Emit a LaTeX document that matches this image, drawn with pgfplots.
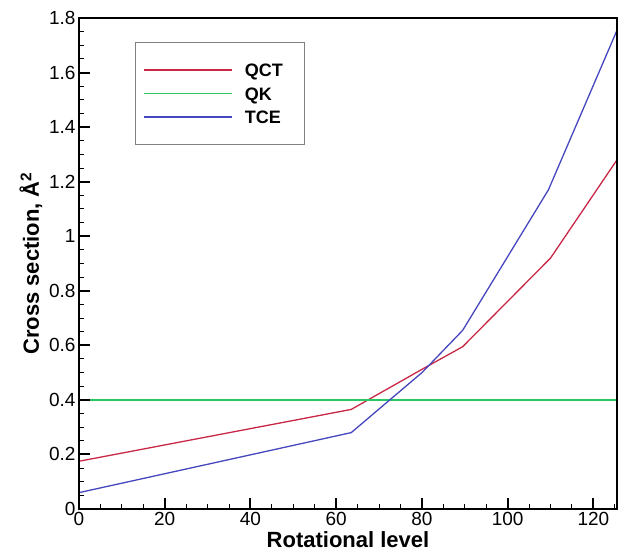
\documentclass[border=0pt]{standalone}
\usepackage{pgfplots}
\pgfplotsset{compat=1.18}
\usepackage{fontspec}
\setmainfont{Liberation Sans}
\definecolor{qct}{RGB}{200,40,70}
\definecolor{qk}{RGB}{40,200,100}
\definecolor{tce}{RGB}{70,70,190}
\begin{document}
\begin{tikzpicture}
\useasboundingbox (-79pt,-42pt) rectangle (544pt,509pt);
\begin{axis}[
  at={(0pt,0pt)}, anchor=south west,
  scale only axis,
  width=538pt, height=491pt,
  xmin=0, xmax=125.5, ymin=0, ymax=1.8,
  xtick={0,20,...,120}, ytick={0,0.2,...,1.8},
  yticklabels={0,0.2,0.4,0.6,0.8,1,1.2,1.4,1.6,1.8},
  xtick pos=left, ytick pos=left,
  minor x tick num=3, minor y tick num=3,
  major tick length=11pt, minor tick length=5pt,
  every major tick/.append style={black, line width=2pt},
  every minor tick/.append style={black, line width=1pt},
  axis line style={black, line width=2.2pt},
  /pgf/number format/assume math mode=true,
  tick label style={font=\fontsize{19}{21}\selectfont},
  xlabel={\textbf{Rotational level}},
  ylabel={\textbf{Cross section, Å\textsuperscript{2}}},
  every axis x label/.append style={font=\fontsize{22}{24}\selectfont, yshift=1pt},
  every axis y label/.append style={font=\fontsize{22}{24}\selectfont},
  legend style={at={(0.104,0.951)}, anchor=north west, draw=gray, line width=0.9pt,
    font=\fontsize{18}{20}\selectfont\bfseries, inner xsep=8pt, inner ysep=19pt,
    nodes={inner sep=2pt, text height=13pt, text depth=0pt}, row sep=6.5pt, column sep=10pt},
  legend cell align=left,
  legend image code/.code={\draw[#1, line width=1.4pt] (0pt,0pt) -- (88pt,0pt);},
  after end axis/.code={
    \foreach \x in {0,20,40,60,80,100,120}
      {\draw[black, line width=2pt] (axis cs:\x,0) -- ++(0pt,11pt);}
    \foreach \x in {5,10,15,25,30,35,45,50,55,65,70,75,85,90,95,105,110,115,125}
      {\draw[black, line width=1pt] (axis cs:\x,0) -- ++(0pt,5pt);}
    \foreach \y in {0,0.2,0.4,0.6,0.8,1,1.2,1.4,1.6,1.8}
      {\draw[black, line width=2pt] (axis cs:0,\y) -- ++(11pt,0pt);}
    \foreach \y in {0.05,0.1,0.15,0.25,0.3,0.35,0.45,0.5,0.55,0.65,0.7,0.75,0.85,0.9,0.95,1.05,1.1,1.15,1.25,1.3,1.35,1.45,1.5,1.55,1.65,1.7,1.75}
      {\draw[black, line width=1pt] (axis cs:0,\y) -- ++(5pt,0pt);}
    \draw[black, line width=2.2pt] (rel axis cs:0,0) rectangle (rel axis cs:1,1);
  },
]
\addplot[qct, line width=1.3pt] coordinates {(0,0.175) (63.5,0.365) (80,0.512) (89.5,0.595) (110,0.92) (125.5,1.28)};
\addlegendentry{QCT\hspace*{12pt}}
\addplot[qk, line width=1.3pt] coordinates {(0,0.4) (125.5,0.4)};
\addlegendentry{QK}
\addplot[tce, line width=1.3pt] coordinates {(0,0.06) (63.5,0.28) (80,0.5) (89.5,0.655) (109.5,1.17) (125.5,1.755)};
\addlegendentry{TCE}
\end{axis}
\end{tikzpicture}
\end{document}
